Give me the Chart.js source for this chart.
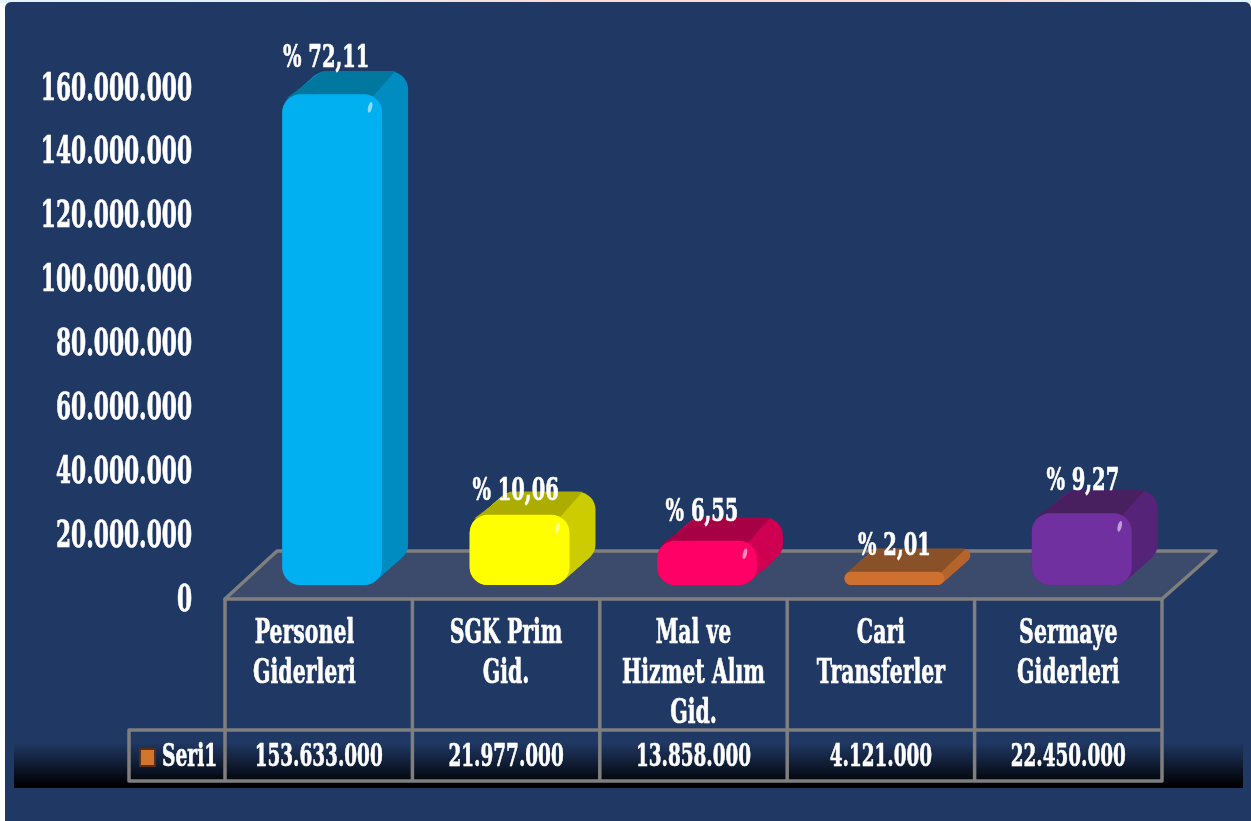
<!DOCTYPE html>
<html lang="tr">
<head>
<meta charset="utf-8">
<title>Giderler</title>
<style>
html,body{margin:0;padding:0;width:1251px;height:821px;overflow:hidden;background:#fff}
#top{position:absolute;left:0;top:0;width:1251px;height:3px;background:linear-gradient(90deg,#e6f4fb 0%,#dff1fa 14%,#fbdcd8 45%,#fbdcd8 80%,#dff3fb 100%)}
#panel{position:absolute;left:5px;top:2px;width:1246px;height:819px;background:#203864;border-radius:6px 6px 0 0}
canvas{position:absolute;left:0;top:0}
</style>
<script src="https://cdn.jsdelivr.net/npm/chart.js@4/dist/chart.umd.js"></script>
</head>
<body>
<div id="top"></div><div id="panel"></div>
<canvas id="c" width="1251" height="821"></canvas>
<script>
const categories = [["Personel","Giderleri"],["SGK Prim","Gid."],["Mal ve","Hizmet Alım","Gid."],["Cari","Transferler"],["Sermaye","Giderleri"]];
const seriesName = "Seri1";
const seriesValues = [153633000,21977000,13858000,4121000,22450000];
const percentLabels = ["% 72,11","% 10,06","% 6,55","% 2,01","% 9,27"];
const tickValues = [0,20000000,40000000,60000000,80000000,100000000,120000000,140000000,160000000];

const frontColors = ["#00B0F0","#FFFF00","#FF0066","#CE7130","#7030A0"];
const sideColors  = ["#008CC0","#CCCC00","#CF0052","#B5642B","#552479"];
const topColors   = ["#00779F","#ADAD00","#A80044","#8A5028","#49205F"];
const labelNudge  = [[-6,-9],[-4,4],[-5,-1],[0,2],[1,-5]];

const FONT = '"DejaVu Serif"';
const SIZE = {axis:37, table:32, percent:32.5, category:33, legend:31.5};
const NARROW = {37:.587, 32:.575, 32.5:.60, 33:.62, 31.5:.592};
const fmt = v => String(v).replace(/\B(?=(\d{3})+$)/g,'.');
const canvas = document.getElementById('c');
const ctx = canvas.getContext('2d');

// all text in the picture is a tall condensed slab: narrow every string horizontally
const rawFill = ctx.fillText.bind(ctx);
ctx.fillText = function(t,x,y){
  const size = parseFloat((/([\d.]+)px/.exec(ctx.font)||[0,37])[1]);
  ctx.save(); ctx.translate(x,y+3); ctx.scale(NARROW[size]||.6,1);
  rawFill(t,0,0);
  ctx.strokeStyle=ctx.fillStyle; ctx.lineWidth=.7; ctx.strokeText(t,0,0);
  ctx.restore();
};

const DEPTH = {x:26,y:-23}, SHIFT = {x:13.5,y:-13}, GRAY = '#7F7F7F';

function rr(c,x,y,w,h,r){ c.beginPath(); c.roundRect(x,y,w,h,r); }

const scene = {
  id:'scene',
  beforeDraw(chart){
    const c = chart.ctx, a = chart.chartArea, xs = chart.scales.x;
    // dark band behind the value row
    const g = c.createLinearGradient(0,743,0,786);
    g.addColorStop(0,'rgba(0,0,0,0)'); g.addColorStop(1,'#000');
    c.fillStyle = g; c.fillRect(14,743,1229,45);
    // floor
    const L=a.left, R=a.right, B=a.bottom+1;
    c.beginPath(); c.moveTo(L,B); c.lineTo(L+52,B-48); c.lineTo(R+54,B-48); c.lineTo(R,B); c.closePath();
    c.fillStyle='#3C4A6B'; c.fill();
    c.strokeStyle=GRAY; c.lineWidth=3.5; c.lineJoin='round'; c.lineCap='round'; c.stroke();
    // table grid
    const step=(R-L)/categories.length, rowA=730, rowB=781;
    c.beginPath();
    c.moveTo(129,rowA); c.lineTo(R,rowA);
    c.moveTo(129,rowB); c.lineTo(R,rowB);
    c.moveTo(129,rowA); c.lineTo(129,rowB);
    for(let i=0;i<=categories.length;i++){ const x=L+i*step; c.moveTo(x,B); c.lineTo(x,rowB); }
    c.stroke();
    // value row
    c.fillStyle='#fff'; c.textAlign='center'; c.textBaseline='middle';
    c.font='bold '+SIZE.table+'px '+FONT;
    seriesValues.forEach((v,i)=>c.fillText(fmt(v),xs.getPixelForValue(i),755));
    // legend key
    c.fillStyle='#D2752F'; c.strokeStyle='#5A2E14'; c.lineWidth=2;
    c.fillRect(140,749,15,17); c.strokeRect(140,749,15,17);
    c.fillStyle='#fff'; c.textAlign='left'; c.font='bold '+SIZE.legend+'px '+FONT;
    c.fillText(seriesName,162,755);
  },
  beforeDatasetsDraw(chart){
    const c = chart.ctx;
    chart.getDatasetMeta(0).data.forEach((b,i)=>{
      const x=b.x-b.width/2+SHIFT.x, w=b.width, y=b.y+SHIFT.y, h=b.base-b.y, r=Math.min(18,h/2);
      c.fillStyle=sideColors[i];
      for(let t=0;t<=1.0001;t+=1/30){ rr(c,x+DEPTH.x*t,y+DEPTH.y*t,w,h,r); c.fill(); }
      c.fillStyle=topColors[i];
      c.beginPath();
      c.moveTo(x+r*0.25,y+r*0.2);
      c.lineTo(x+DEPTH.x+r*0.8,y+DEPTH.y);
      c.lineTo(x+w+DEPTH.x-r*0.72,y+DEPTH.y);
      c.lineTo(x+w-r*0.5,y+r*0.1);
      c.closePath(); c.fill();
    });
    c.save(); c.translate(SHIFT.x,SHIFT.y);
  },
  afterDatasetsDraw(chart){
    const c = chart.ctx; c.restore();
    chart.getDatasetMeta(0).data.forEach((b,i)=>{
      const x=b.x+SHIFT.x, y=b.y+SHIFT.y, h=b.base-b.y;
      if(h>20){
        c.save(); c.fillStyle='rgba(255,255,255,0.55)';
        c.beginPath(); c.ellipse(x+b.width/2-12,y+13,2,5.5,0.25,0,7); c.fill(); c.restore();
      }
      c.fillStyle='#fff'; c.textAlign='center'; c.textBaseline='middle';
      c.font='bold '+SIZE.percent+'px '+FONT;
      c.fillText(percentLabels[i],x+labelNudge[i][0],y-30+labelNudge[i][1]);
    });
  }
};

new Chart(ctx,{
  type:'bar',
  data:{
    labels:categories,
    datasets:[{
      label:seriesName,
      data:seriesValues,
      backgroundColor:frontColors,
      borderWidth:0,
      borderRadius:18,
      borderSkipped:false,
      barPercentage:0.533,
      categoryPercentage:1,
      clip:false
    }]
  },
  options:{
    responsive:false,
    animation:false,
    events:[],
    layout:{padding:{top:87,right:89,left:0,bottom:0}},
    plugins:{legend:{display:false},tooltip:{enabled:false},title:{display:false}},
    scales:{
      x:{
        grid:{display:false,drawTicks:false},
        border:{display:false},
        afterFit(s){s.height=223;},
        ticks:{
          color:'#fff',
          autoSkip:false,maxRotation:0,minRotation:0,
          font:{family:FONT,size:SIZE.category,weight:'bold',lineHeight:40/33},
          padding:13,
          // first column's label sits left of its cell centre in the original
          callback(v,i){const l=categories[i];return i===0?l.map(s=>s+'\u00A0\u00A0\u00A0\u00A0'):l;}
        }
      },
      y:{
        min:0,max:160000000,
        grid:{display:false,drawTicks:false},
        border:{display:false},
        afterFit(s){s.width=225;},
        afterBuildTicks(s){s.ticks=tickValues.map(v=>({value:v}));},
        ticks:{
          color:'#fff',
          font:{family:FONT,size:SIZE.axis,weight:'bold'},
          padding:33,
          callback:v=>fmt(v)
        }
      }
    }
  },
  plugins:[scene]
});
</script>
</body>
</html>
